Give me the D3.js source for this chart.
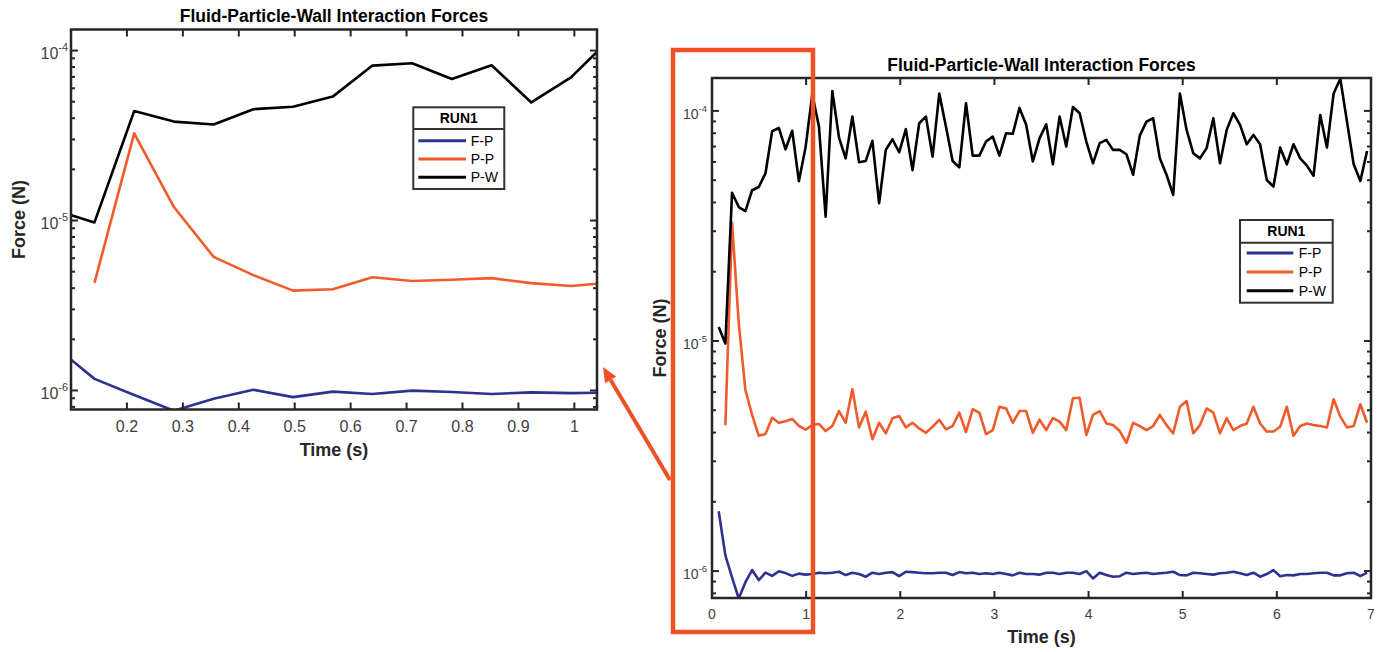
<!DOCTYPE html>
<html>
<head>
<meta charset="utf-8">
<script src="https://cdn.jsdelivr.net/npm/d3@7"></script>
<style>
  body { margin: 0; background: #fff; }
  svg { display: block; }
  text { font-family: "Liberation Sans", Arial, Helvetica, sans-serif; }
</style>
</head>
<body>
<svg id="fig" width="1385" height="652"></svg>
<script>
// ---- data -----------------------------------------------------------
const sampleStep = 0.071;           // s, output interval of the run
const sampleCount = 98;

const seriesNames  = ["F-P", "P-P", "P-W"];
const seriesColors = ["#2E3192", "#F15A2B", "#000000"];

// Fluid-particle force (N)
const forceFP = [
  1.82e-6, 1.17e-6, 9.4e-7, 7.6e-7, 8.95e-7, 1.01e-6, 9.14e-7, 9.84e-7, 9.53e-7, 9.98e-7,
  9.8e-7, 9.53e-7, 9.75e-7, 9.65e-7, 9.71e-7, 9.84e-7, 9.78e-7, 9.84e-7, 9.93e-7, 9.61e-7,
  9.84e-7, 9.71e-7, 9.45e-7, 9.84e-7, 9.71e-7, 9.84e-7, 9.9e-7, 9.5e-7, 9.93e-7, 9.9e-7,
  9.84e-7, 9.78e-7, 9.78e-7, 9.84e-7, 9.84e-7, 9.61e-7, 9.9e-7, 9.78e-7, 9.84e-7, 9.71e-7,
  9.78e-7, 9.71e-7, 9.84e-7, 9.71e-7, 9.58e-7, 9.84e-7, 9.71e-7, 9.71e-7, 9.65e-7, 9.84e-7,
  9.84e-7, 9.71e-7, 9.84e-7, 9.84e-7, 9.71e-7, 1.0e-6, 9.29e-7, 9.84e-7, 9.61e-7, 9.45e-7,
  9.5e-7, 9.84e-7, 9.71e-7, 9.78e-7, 9.84e-7, 9.71e-7, 9.78e-7, 9.84e-7, 9.93e-7, 9.61e-7,
  9.58e-7, 9.84e-7, 9.78e-7, 9.71e-7, 9.65e-7, 9.78e-7, 9.84e-7, 9.93e-7, 9.78e-7, 9.61e-7,
  9.84e-7, 9.45e-7, 9.71e-7, 1.01e-6, 9.5e-7, 9.61e-7, 9.58e-7, 9.71e-7, 9.71e-7, 9.78e-7,
  9.84e-7, 9.84e-7, 9.58e-7, 9.58e-7, 9.78e-7, 9.84e-7, 9.5e-7, 9.84e-7
];

// Particle-particle force (N); no value at the first output
const forcePP = [
  null, 4.3e-6, 3.26e-5, 1.2e-5, 6.11e-6, 4.77e-6, 3.87e-6, 3.94e-6, 4.64e-6, 4.41e-6,
  4.48e-6, 4.58e-6, 4.28e-6, 4.12e-6, 4.31e-6, 4.36e-6, 4.06e-6, 4.27e-6, 4.96e-6, 4.41e-6,
  6.17e-6, 4.21e-6, 4.93e-6, 3.74e-6, 4.41e-6, 3.97e-6, 4.62e-6, 4.72e-6, 4.21e-6, 4.41e-6,
  4.17e-6, 3.99e-6, 4.24e-6, 4.54e-6, 4.13e-6, 4.27e-6, 4.88e-6, 4.02e-6, 5.05e-6, 4.88e-6,
  3.94e-6, 4.1e-6, 5.18e-6, 5.09e-6, 4.41e-6, 4.96e-6, 4.96e-6, 3.99e-6, 4.55e-6, 4.1e-6,
  4.62e-6, 4.46e-6, 4.1e-6, 5.64e-6, 5.67e-6, 3.9e-6, 4.77e-6, 4.96e-6, 4.38e-6, 4.31e-6,
  4.06e-6, 3.61e-6, 4.41e-6, 4.27e-6, 4.1e-6, 4.27e-6, 4.77e-6, 4.31e-6, 3.97e-6, 5.18e-6,
  5.48e-6, 3.97e-6, 4.31e-6, 5.09e-6, 4.88e-6, 3.97e-6, 4.62e-6, 4.1e-6, 4.27e-6, 4.38e-6,
  5.18e-6, 4.38e-6, 4.04e-6, 4.04e-6, 4.24e-6, 5.18e-6, 3.87e-6, 4.27e-6, 4.38e-6, 4.31e-6,
  4.27e-6, 4.21e-6, 5.58e-6, 4.69e-6, 4.21e-6, 4.27e-6, 5.31e-6, 4.41e-6
];

// Particle-wall force (N)
const forcePW = [
  1.15e-5, 9.75e-6, 4.41e-5, 3.82e-5, 3.67e-5, 4.52e-5, 4.67e-5, 5.36e-5, 8.16e-5, 8.43e-5,
  6.81e-5, 8.2e-5, 4.95e-5, 6.95e-5, 1.18e-4, 8.55e-5, 3.47e-5, 1.22e-4, 7.66e-5, 6.22e-5,
  9.45e-5, 5.98e-5, 6.06e-5, 7.41e-5, 3.97e-5, 6.77e-5, 7.53e-5, 6.61e-5, 8.33e-5, 5.53e-5,
  8.84e-5, 9.45e-5, 6.33e-5, 1.19e-4, 8.55e-5, 6.06e-5, 5.68e-5, 1.08e-4, 6.39e-5, 6.39e-5,
  7.36e-5, 7.73e-5, 6.39e-5, 8.0e-5, 7.95e-5, 1.03e-4, 8.7e-5, 6.03e-5, 7.6e-5, 8.75e-5,
  5.86e-5, 9.45e-5, 7.0e-5, 1.04e-4, 9.77e-5, 7.36e-5, 5.92e-5, 7.24e-5, 7.48e-5, 6.77e-5,
  6.77e-5, 6.48e-5, 5.28e-5, 7.81e-5, 8.98e-5, 9.29e-5, 6.22e-5, 5.28e-5, 4.31e-5, 1.19e-4,
  8.27e-5, 6.55e-5, 6.22e-5, 6.89e-5, 9.29e-5, 5.92e-5, 8.27e-5, 9.77e-5, 8.7e-5, 7.16e-5,
  7.86e-5, 7.16e-5, 5.01e-5, 4.69e-5, 6.93e-5, 5.86e-5, 7.16e-5, 6.22e-5, 5.78e-5, 5.23e-5,
  9.6e-5, 6.93e-5, 1.19e-4, 1.38e-4, 8.98e-5, 5.86e-5, 4.96e-5, 6.7e-5
];

const mainXTicks = [0, 1, 2, 3, 4, 5, 6, 7];
const zoomXTicks = [0.2, 0.3, 0.4, 0.5, 0.6, 0.7, 0.8, 0.9, 1];
const yMajorTicks = [1e-6, 1e-5, 1e-4];

const chartTitle  = "Fluid-Particle-Wall Interaction Forces";
const xLabel      = "Time (s)";
const yLabel      = "Force (N)";
const legendTitle = "RUN1";

// ---- figure -----------------------------------------------------------
const times = d3.range(1, sampleCount + 1).map(k => +(k * sampleStep).toFixed(3));
const seriesValues = [forceFP, forcePP, forcePW];
const series = seriesNames.map((name, i) => ({
  name,
  color: seriesColors[i],
  points: times.map((t, j) => ({ t, v: seriesValues[i][j] }))
}));

const svg = d3.select("#fig");
const AXIS_COLOR = "#262626";
const TICK_TEXT = "#404040";

function drawPanel(p) {
  const g = svg.append("g");
  const x = d3.scaleLinear().domain(p.xDomain).range([p.left, p.right]);
  const y = d3.scaleLog().domain(p.yDomain).range([p.bottom, p.top]);

  const clipId = "clip-" + p.id;
  svg.append("clipPath").attr("id", clipId)
    .append("rect")
    .attr("x", p.left).attr("y", p.top)
    .attr("width", p.right - p.left).attr("height", p.bottom - p.top);

  // data lines
  const line = d3.line()
    .defined(d => d.v != null)
    .x(d => x(d.t))
    .y(d => y(d.v));
  g.append("g").attr("clip-path", `url(#${clipId})`)
    .selectAll("path").data(series).join("path")
    .attr("d", s => line(s.points))
    .attr("fill", "none")
    .attr("stroke", s => s.color)
    .attr("stroke-width", p.lineWidth)
    .attr("stroke-linejoin", "round");

  // ticks (inside, on all four sides)
  const tk = g.append("g").attr("stroke", AXIS_COLOR).attr("stroke-width", 2);
  p.xTicks.forEach(v => {
    const xx = x(v);
    tk.append("line").attr("x1", xx).attr("x2", xx).attr("y1", p.bottom).attr("y2", p.bottom - p.majorLen);
    tk.append("line").attr("x1", xx).attr("x2", xx).attr("y1", p.top).attr("y2", p.top + p.majorLen);
  });
  const [y0, y1] = p.yDomain;
  y.ticks().filter(v => v >= y0 && v <= y1).forEach(v => {
    const major = yMajorTicks.includes(v);
    const len = major ? p.majorLen : p.minorLen;
    const yy = y(v);
    tk.append("line").attr("x1", p.left).attr("x2", p.left + len).attr("y1", yy).attr("y2", yy);
    tk.append("line").attr("x1", p.right).attr("x2", p.right - len).attr("y1", yy).attr("y2", yy);
  });

  // frame
  g.append("rect")
    .attr("x", p.left).attr("y", p.top)
    .attr("width", p.right - p.left).attr("height", p.bottom - p.top)
    .attr("fill", "none").attr("stroke", AXIS_COLOR).attr("stroke-width", 2.5);

  // tick labels
  g.append("g").selectAll("text").data(p.xTicks).join("text")
    .attr("x", d => x(d)).attr("y", p.bottom + p.xLabelGap)
    .attr("text-anchor", "middle")
    .attr("font-size", p.tickFont).attr("fill", TICK_TEXT)
    .text(d => d3.format("~g")(d));

  const yl = g.append("g").selectAll("text").data(yMajorTicks).join("text")
    .attr("x", p.left - p.yLabelGap).attr("y", d => y(d) + p.tickFont * 0.55)
    .attr("text-anchor", "end")
    .attr("font-size", p.tickFont).attr("fill", TICK_TEXT);
  yl.append("tspan").text("10");
  yl.append("tspan")
    .attr("dy", -p.tickFont * 0.5)
    .attr("font-size", p.tickFont * 0.68)
    .text(d => String(Math.round(Math.log10(d))));

  // titles
  g.append("text")
    .attr("x", (p.left + p.right) / 2).attr("y", p.titleY)
    .attr("text-anchor", "middle").attr("font-weight", "bold")
    .attr("font-size", p.titleFont).attr("fill", "#000")
    .text(chartTitle);
  g.append("text")
    .attr("x", (p.left + p.right) / 2).attr("y", p.xTitleY)
    .attr("text-anchor", "middle").attr("font-weight", "bold")
    .attr("font-size", p.labelFont).attr("fill", AXIS_COLOR)
    .text(xLabel);
  g.append("text")
    .attr("transform", `translate(${p.yTitleX},${(p.top + p.bottom) / 2}) rotate(-90)`)
    .attr("text-anchor", "middle").attr("font-weight", "bold")
    .attr("font-size", p.labelFont).attr("fill", AXIS_COLOR)
    .text(yLabel);

  // legend
  const L = p.legend;
  const lg = g.append("g");
  lg.append("rect")
    .attr("x", L.x).attr("y", L.y).attr("width", L.w).attr("height", L.h)
    .attr("fill", "#fff").attr("stroke", "#333").attr("stroke-width", 2);
  lg.append("line")
    .attr("x1", L.x).attr("x2", L.x + L.w)
    .attr("y1", L.y + L.headH).attr("y2", L.y + L.headH)
    .attr("stroke", "#333").attr("stroke-width", 2);
  lg.append("text")
    .attr("x", L.x + L.w / 2).attr("y", L.y + L.headH / 2 + L.font * 0.36)
    .attr("text-anchor", "middle").attr("font-weight", "bold")
    .attr("font-size", L.font).attr("fill", "#000")
    .text(legendTitle);
  const rows = lg.selectAll("g.row").data(series).join("g").attr("class", "row")
    .attr("transform", (d, i) => `translate(0,${L.firstRowY + i * L.rowStep})`);
  rows.append("line")
    .attr("x1", L.x + L.sampleX0).attr("x2", L.x + L.sampleX1)
    .attr("stroke", d => d.color).attr("stroke-width", 3);
  rows.append("text")
    .attr("x", L.x + L.textX).attr("y", L.font * 0.36)
    .attr("font-size", L.font).attr("fill", "#000")
    .text(d => d.name);
}

// magnified view of the first second
drawPanel({
  id: "zoom",
  left: 71, right: 597, top: 29.5, bottom: 409.5,
  xDomain: [0.1, 1.0405],
  yDomain: [Math.pow(10, -6.112), Math.pow(10, -3.876)],
  xTicks: zoomXTicks,
  lineWidth: 2.6, majorLen: 7, minorLen: 4,
  tickFont: 16, xLabelGap: 22, yLabelGap: 3,
  titleFont: 17.5, titleY: 21.5,
  labelFont: 18, xTitleY: 456, yTitleX: 25,
  legend: { x: 413.3, y: 107.3, w: 91, h: 81.7, headH: 21.7,
            firstRowY: 140.7, rowStep: 18.3, sampleX0: 5, sampleX1: 52.7, textX: 57.4, font: 14 }
});

// full run
drawPanel({
  id: "main",
  left: 712, right: 1371, top: 78, bottom: 598,
  xDomain: [0, 7],
  yDomain: [Math.pow(10, -6.117), Math.pow(10, -3.857)],
  xTicks: mainXTicks,
  lineWidth: 2.6, majorLen: 7, minorLen: 4,
  tickFont: 14, xLabelGap: 21, yLabelGap: 5,
  titleFont: 17.5, titleY: 70.5,
  labelFont: 18, xTitleY: 643, yTitleX: 666,
  legend: { x: 1240, y: 220, w: 92.7, h: 82.7, headH: 22.7,
            firstRowY: 253, rowStep: 18.9, sampleX0: 6.7, sampleX1: 53.3, textX: 58.7, font: 14 }
});

// highlight of the magnified window and pointer to the inset
const HIGHLIGHT = "#EF5024";
svg.append("rect")
  .attr("x", 673).attr("y", 50).attr("width", 140).attr("height", 582)
  .attr("fill", "none").attr("stroke", HIGHLIGHT).attr("stroke-width", 4.5);

const tail = [670, 480], tip = [603, 367];
const ang = Math.atan2(tip[1] - tail[1], tip[0] - tail[0]);
const headLen = 15, headHalf = 6.5;
const base = [tip[0] - headLen * Math.cos(ang), tip[1] - headLen * Math.sin(ang)];
svg.append("line")
  .attr("x1", tail[0]).attr("y1", tail[1]).attr("x2", base[0]).attr("y2", base[1])
  .attr("stroke", HIGHLIGHT).attr("stroke-width", 4);
svg.append("path")
  .attr("d", d3.line()([
    tip,
    [base[0] + headHalf * Math.sin(ang), base[1] - headHalf * Math.cos(ang)],
    [base[0] - headHalf * Math.sin(ang), base[1] + headHalf * Math.cos(ang)]
  ]) + "Z")
  .attr("fill", HIGHLIGHT);
</script>
</body>
</html>
